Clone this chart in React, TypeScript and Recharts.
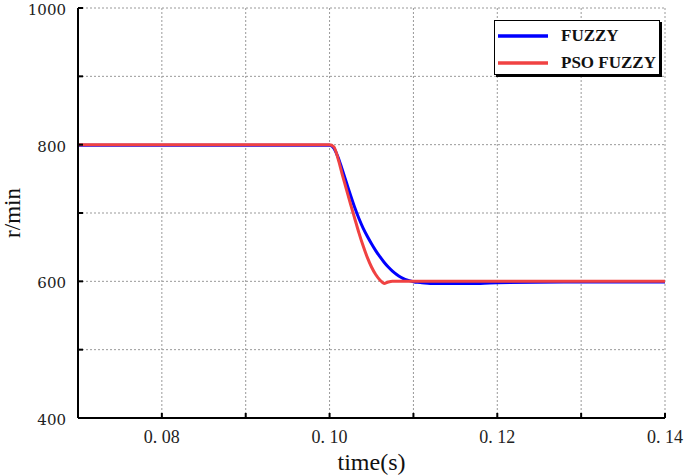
import { LineChart, Line, XAxis, YAxis, CartesianGrid, Legend, Label } from "recharts";

const times = [
  0.07, 0.1, 0.1005, 0.101, 0.1015, 0.102, 0.1025, 0.103, 0.1035, 0.104, 0.1045, 0.105, 0.1055, 0.106,
  0.1065, 0.107, 0.1075, 0.108, 0.1085, 0.109, 0.1095, 0.11, 0.1105, 0.111, 0.112, 0.115, 0.118, 0.12, 0.13,
  0.14,
];
const fuzzy = [
  799, 799, 795, 782, 764, 745, 726, 708, 692, 678, 666, 655, 645, 636, 628, 621, 615, 610, 606, 603, 601,
  599.5, 598.5, 598, 597, 597, 597, 598, 599, 599,
];
const psoFuzzy = [
  800, 800, 797, 780, 757, 735, 713, 692, 671, 652, 635, 621, 610, 602, 597, 599, 600, 600, 600, 600, 600,
  600, 600, 600, 600, 600, 600, 600, 600, 600,
];
const xTicks = [0.07, 0.08, 0.09, 0.1, 0.11, 0.12, 0.13, 0.14];
const yTicks = [400, 500, 600, 700, 800, 900, 1000];
const seriesNames = ["FUZZY", "PSO FUZZY"];
const seriesColors = ["#0000ff", "#f04242"];

const data = times.map((t, i) => ({ t, fuzzy: fuzzy[i], pso: psoFuzzy[i] }));

const FONT = "'Liberation Serif', 'Times New Roman', serif";
const TICK_FONT = "'DejaVu Serif', serif";

function XTick(props: any) {
  const { x, y, payload } = props;
  const n = Math.round(payload.value * 100);
  const show = n % 2 === 0 && n !== 70;
  return (
    <g>
      <line x1={x} y1={y} x2={x} y2={y - 5} stroke="#000" strokeWidth={2} />
      {show && (
        <text x={x} y={y + 25} textAnchor="middle" fontSize={18} fontFamily={FONT} fill="#222">
          {`0. ${String(n).padStart(2, "0")}`}
        </text>
      )}
    </g>
  );
}

function YTick(props: any) {
  const { x, y, payload } = props;
  const show = payload.value % 200 === 0;
  return (
    <g>
      <line x1={x} y1={y} x2={x + 5} y2={y} stroke="#000" strokeWidth={2} />
      {show && (
        <text x={x - 12} y={y + 7} textAnchor="end" fontSize={15} fontFamily={TICK_FONT} fill="#222">
          {payload.value}
        </text>
      )}
    </g>
  );
}

function LegendBox() {
  return (
    <div
      style={{
        border: "1px solid #000",
        boxShadow: "2px 2px 0 #000",
        background: "#fff",
        width: 166,
        height: 55,
        boxSizing: "border-box",
        padding: "1px 0 0 3px",
      }}
    >
      {seriesNames.map((name, i) => (
        <div key={name} style={{ display: "flex", alignItems: "center", height: 27 }}>
          <svg width={50} height={6}>
            <line x1={0} y1={3} x2={50} y2={3} stroke={seriesColors[i]} strokeWidth={3.5} />
          </svg>
          <span style={{ marginLeft: 13, fontFamily: FONT, fontWeight: "bold", fontSize: 17, color: "#111" }}>
            {name}
          </span>
        </div>
      ))}
    </div>
  );
}

export default function App() {
  return (
    <div style={{ position: "absolute", left: 0, top: 0 }}>
      <LineChart width={685} height={476} data={data} margin={{ top: 8, right: 20, bottom: 0, left: 0 }}>
        <CartesianGrid stroke="#999" strokeDasharray="2 2" horizontalValues={yTicks} verticalValues={xTicks} />
        <XAxis
          dataKey="t"
          type="number"
          domain={[0.07, 0.14]}
          ticks={xTicks}
          interval={0}
          height={58}
          tickSize={0}
          tickMargin={0}
          tick={<XTick />}
          axisLine={{ stroke: "#000", strokeWidth: 2 }}
          allowDataOverflow
        >
          <Label value="time(s)" position="insideBottom" offset={6} fontSize={24} fontFamily={FONT} fill="#111" />
        </XAxis>
        <XAxis
          xAxisId="top"
          dataKey="t"
          type="number"
          domain={[0.07, 0.14]}
          orientation="top"
          height={0}
          tick={false}
          tickLine={false}
          axisLine={{ stroke: "#000", strokeWidth: 2 }}
        />
        <YAxis
          type="number"
          domain={[400, 1000]}
          ticks={yTicks}
          interval={0}
          width={78}
          tickSize={0}
          tickMargin={0}
          tick={<YTick />}
          axisLine={{ stroke: "#000", strokeWidth: 2 }}
          allowDataOverflow
        >
          <Label
            value="r/min"
            angle={-90}
            position="insideLeft"
            offset={12}
            style={{ textAnchor: "middle" }}
            fontSize={23}
            fontFamily={FONT}
            fill="#111"
          />
        </YAxis>
        <YAxis
          yAxisId="right"
          orientation="right"
          domain={[400, 1000]}
          width={0}
          tick={false}
          tickLine={false}
          axisLine={{ stroke: "#000", strokeWidth: 2 }}
        />
        <Legend
          layout="horizontal"
          verticalAlign="middle"
          content={<LegendBox />}
          wrapperStyle={{ left: 494, top: 20, width: 168, height: 57 }}
        />
        <Line
          type="monotone"
          dataKey="fuzzy"
          name={seriesNames[0]}
          stroke={seriesColors[0]}
          strokeWidth={3}
          dot={false}
          isAnimationActive={false}
        />
        <Line
          type="monotone"
          dataKey="pso"
          name={seriesNames[1]}
          stroke={seriesColors[1]}
          strokeWidth={3}
          dot={false}
          isAnimationActive={false}
        />
      </LineChart>
    </div>
  );
}
